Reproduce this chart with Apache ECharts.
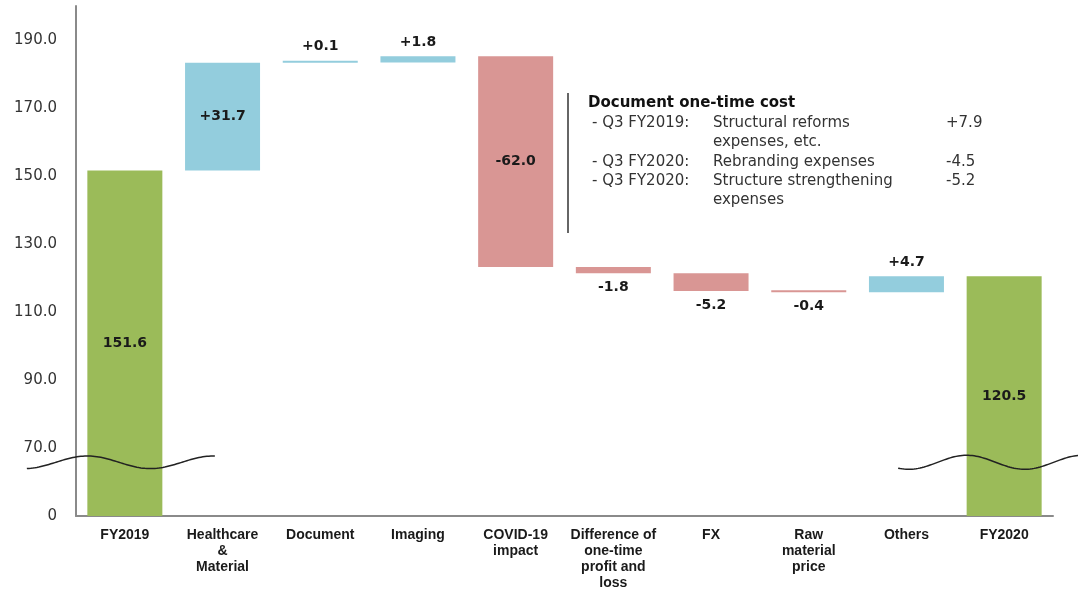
<!DOCTYPE html>
<html><head><meta charset="utf-8">
<script src="https://cdn.jsdelivr.net/npm/echarts@6/dist/echarts.min.js"></script>
<style>html,body{margin:0;padding:0;background:#fff}#c{width:1078px;height:591px}</style>
</head><body><div id="c"></div>
<script>
// ---- data ----
const categories = ['FY2019', 'Healthcare\n&\nMaterial', 'Document', 'Imaging', 'COVID-19\nimpact',
  'Difference of\none-time\nprofit and\nloss', 'FX', 'Raw\nmaterial\nprice', 'Others', 'FY2020'];
const kinds = ['total', 'delta', 'delta', 'delta', 'delta', 'delta', 'delta', 'delta', 'delta', 'total'];
const values = [151.6, 31.7, 0.1, 1.8, -62.0, -1.8, -5.2, -0.4, 4.7, 120.5];
const yTicks = [50, 70, 90, 110, 130, 150, 170, 190];
const yTickLabels = ['0', '70.0', '90.0', '110.0', '130.0', '150.0', '170.0', '190.0'];
const AXIS_FLOOR = 50;   // broken axis: shown as "0"
const AXIS_TOP = 200;
const BREAK_VALUE = 65.8;
const noteTitle = 'Document one-time cost';
const notePrefixes = ['- Q3 FY2019:', '', '- Q3 FY2020:', '- Q3 FY2020:', ''];
const noteTexts = ['Structural reforms', 'expenses, etc.', 'Rebranding expenses', 'Structure strengthening', 'expenses'];
const noteValues = ['+7.9', '', '-4.5', '-5.2', ''];

// ---- derived ----
const GREEN = '#9BBB59', BLUE = '#93CDDD', RED = '#D99694';
let running = 0;
const lows = [], items = [], labelTexts = [];
values.forEach((v, i) => {
  let low, high, color, pos;
  if (kinds[i] === 'total') {
    low = AXIS_FLOOR; high = v; running = v; color = GREEN; pos = 'inside';
    labelTexts.push(v.toFixed(1));
  } else {
    const start = running, end = Math.round((running + v) * 10) / 10;
    low = Math.min(start, end); high = Math.max(start, end); running = end;
    color = v > 0 ? BLUE : RED;
    pos = Math.abs(v) > 10 ? 'inside' : (v > 0 ? 'top' : 'bottom');
    labelTexts.push((v > 0 ? '+' : '') + v.toFixed(1));
  }
  lows.push(low);
  items.push({
    value: Math.round((high - low) * 10) / 10,
    itemStyle: { color: color },
    label: { position: pos, distance: 7 }
  });
});

const chart = echarts.init(document.getElementById('c'), null, { renderer: 'canvas' });
chart.setOption({
  animation: false,
  backgroundColor: '#fff',
  grid: { left: 76, right: 25, top: 6, bottom: 75 },
  xAxis: {
    type: 'category', data: categories,
    axisLine: { show: true, lineStyle: { color: '#8a8a8a', width: 2 } },
    axisTick: { show: false },
    axisLabel: {
      interval: 0, margin: 11, color: '#1a1a1a', fontFamily: 'Liberation Sans, Arial, sans-serif',
      fontWeight: 'bold', fontSize: 14, lineHeight: 16, align: 'center'
    }
  },
  yAxis: {
    type: 'value', min: AXIS_FLOOR, max: AXIS_TOP, interval: 20,
    splitLine: { show: false },
    axisLine: { show: true, lineStyle: { color: '#8a8a8a', width: 2 } },
    axisTick: { show: false },
    axisLabel: {
      showMaxLabel: false, margin: 19, color: '#333', fontFamily: 'DejaVu Sans, Verdana, sans-serif', fontSize: 15,
      formatter: v => { const k = yTicks.indexOf(v); return k >= 0 ? yTickLabels[k] : ''; }
    }
  },
  series: [
    { type: 'bar', stack: 'w', data: lows, barWidth: 75, silent: true,
      itemStyle: { color: 'rgba(0,0,0,0)' }, label: { show: false } },
    { type: 'bar', stack: 'w', data: items, barWidth: 75, barMinHeight: 2,
      label: {
        show: true, color: '#1a1a1a', fontFamily: 'DejaVu Sans, Verdana, sans-serif',
        fontWeight: 'bold', fontSize: 14,
        formatter: p => labelTexts[p.dataIndex]
      } }
  ]
});

// ---- axis-break waves & annotation ----
function wave(catIdx, fromDx, toDx, peakDx, lambda, amp) {
  const c = chart.convertToPixel({ gridIndex: 0 }, [catIdx, BREAK_VALUE]);
  const pts = [];
  for (let dx = fromDx; dx <= toDx; dx += 2) {
    pts.push([c[0] + dx, c[1] - amp * Math.cos(2 * Math.PI * (dx - peakDx) / lambda)]);
  }
  return { type: 'polyline', shape: { points: pts }, style: { stroke: '#222', lineWidth: 1.5, fill: null }, z: 100 };
}
const graphics = [
  wave(0, -98, 90, -37.5, 126, 6.3),
  wave(categories.length - 1, -106, 74, -37.5, 116, 7)
];
const noteFont = '15px "DejaVu Sans", Verdana, sans-serif';
graphics.push({ type: 'line', shape: { x1: 568, y1: 93, x2: 568, y2: 233 }, style: { stroke: '#333', lineWidth: 1.5 } });
graphics.push({ type: 'text', x: 588, y: 103, style: { text: noteTitle, font: 'bold 15px "DejaVu Sans", Verdana, sans-serif', fill: '#111', verticalAlign: 'middle' } });
const lineY = [123, 142, 162, 181, 200];
noteTexts.forEach((t, i) => {
  if (notePrefixes[i]) graphics.push({ type: 'text', x: 592, y: lineY[i], style: { text: notePrefixes[i], font: noteFont, fill: '#333', verticalAlign: 'middle' } });
  graphics.push({ type: 'text', x: 713, y: lineY[i], style: { text: t, font: noteFont, fill: '#333', verticalAlign: 'middle' } });
  if (noteValues[i]) graphics.push({ type: 'text', x: 946, y: lineY[i], style: { text: noteValues[i], font: noteFont, fill: '#333', verticalAlign: 'middle' } });
});
chart.setOption({ graphic: graphics });
</script></body></html>
